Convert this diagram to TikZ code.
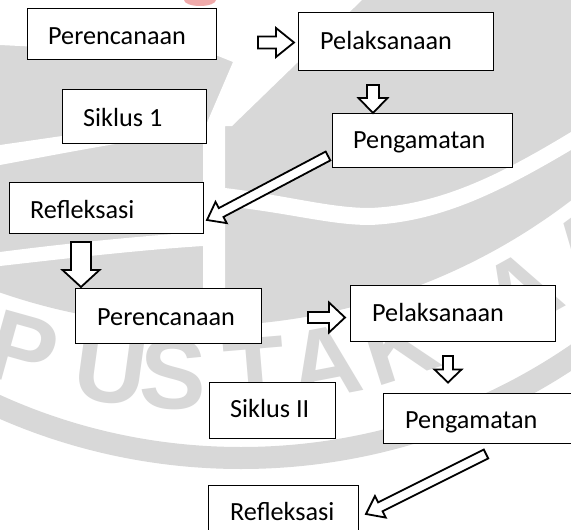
\documentclass[tikz,border=0pt]{standalone}
\usepackage{fontspec}
\setmainfont{Carlito}
\newfontfamily\wmfont{Liberation Sans}
\usetikzlibrary{calc}
\definecolor{wm}{RGB}{216,216,216}
\definecolor{wmred}{RGB}{240,170,170}
\newcommand{\blockarrow}[5]{%
  \coordinate (bah) at ($(#2)!#5pt!(#1)$);
  \draw[blockarr] ($(#1)!#3pt!90:(#2)$) -- ($(bah)!#3pt!90:(#2)$) -- ($(bah)!#4pt!90:(#2)$) -- (#2)
     -- ($(bah)!#4pt!-90:(#2)$) -- ($(bah)!#3pt!-90:(#2)$) -- ($(#1)!#3pt!-90:(#2)$) -- cycle;}
\begin{document}
\begin{tikzpicture}[x=1pt,y=-1pt,
  box/.style={draw=black, line width=1.4pt, fill=white, inner sep=0pt, anchor=north west},
  lbl/.style={anchor=base west, inner sep=0pt, font=\fontsize{26.2}{30}\selectfont},
  blockarr/.style={draw=black, fill=white, line width=1.8pt, line join=miter},
  wmletter/.style={text=wm, inner sep=0pt, font=\wmfont\bfseries\fontsize{100}{100}\selectfont}]
\useasboundingbox (0,0) rectangle (571,530);
\clip (0,0) rectangle (571,530);
\fill[white] (0,0) rectangle (571,530);
% watermark
\fill[wm] (200,-285) circle[radius=611];
\fill[white] (0,0) -- (362,0) -- (232,126) -- (225,126) -- (225,340) -- (203,340) -- (203,132)
  -- (233,62) -- (218,56) -- (0,45) -- cycle;
\fill[white] (0,145) .. controls (70,135) and (140,124) .. (203,118) -- (203,132)
  .. controls (140,138) and (70,152) .. (0,165) -- cycle;
\fill[white] (0,252) .. controls (70,243) and (140,236) .. (203,232) -- (203,246)
  .. controls (140,250) and (70,258) .. (0,266) -- cycle;
\fill[white] (225,188) .. controls (290,196) and (330,208) .. (370,208)
  .. controls (440,205) and (500,175) .. (571,132) -- (571,150)
  .. controls (500,192) and (440,222) .. (370,225)
  .. controls (330,225) and (290,213) .. (225,206) -- cycle;
\fill[wm, even odd rule] (241,-135) circle[radius=604] (241,-135) circle[radius=582];
\foreach \l/\a [count=\i] in {P/-15.6,U/-7.8,S/-2.3,T/4.8,A/10.9,K/17.6,A/29,A/36.4}
  \node[wmletter, rotate=\a] (wm\i) at ({200+660*sin(\a)},{-285+660*cos(\a)}) {\l};
\fill[wmred] (200,0) ellipse[x radius=16, y radius=6];
% boxes
\node[box, minimum width=189pt, minimum height=51pt] (p1) at (27,8) {};
\node[box, minimum width=195pt, minimum height=58pt] (l1) at (298,12) {};
\node[box, minimum width=180pt, minimum height=54pt] (g1) at (332,113) {};
\node[box, minimum width=144pt, minimum height=54pt] (s1) at (62,89) {};
\node[box, minimum width=194pt, minimum height=51pt] (r1) at (9,182) {};
\node[box, minimum width=186pt, minimum height=55pt] (p2) at (75,288) {};
\node[box, minimum width=205pt, minimum height=56pt] (l2) at (350,285) {};
\node[box, minimum width=126pt, minimum height=56pt] (s2) at (209,382) {};
\node[box, minimum width=189pt, minimum height=50pt] (g2) at (383,393) {};
\node[box, minimum width=150pt, minimum height=55pt] (r2) at (208,485) {};
% labels
\node[lbl] (p1t) at (48,45) {Perencanaan};
\node[lbl] (l1t) at (320,49) {Pelaksanaan};
\node[lbl] (g1t) at (353,148) {Pengamatan};
\node[lbl] (s1t) at (83,126) {Siklus 1};
\node[lbl] (r1t) at (30,218) {Refleksasi};
\node[lbl] (p2t) at (97,325) {Perencanaan};
\node[lbl] (l2t) at (372,321) {Pelaksanaan};
\node[lbl] (s2t) at (230,417) {Siklus II};
\node[lbl] (g2t) at (405,428) {Pengamatan};
\node[lbl] (r2t) at (230,520) {Refleksasi};
% arrow ends
\coordinate (a1s) at (258,42.5);  \coordinate (a1e) at (294,42.5);
\coordinate (a2s) at (373,85);    \coordinate (a2e) at (373,113);
\coordinate (a3s) at (328,156);   \coordinate (a3e) at (207,220);
\coordinate (a4s) at (81,242);    \coordinate (a4e) at (81,287);
\coordinate (a5s) at (308,317.5); \coordinate (a5e) at (345,317.5);
\coordinate (a6s) at (448,356);   \coordinate (a6e) at (448,382.5);
\coordinate (a7s) at (486,454);   \coordinate (a7e) at (366,514);
\blockarrow{a1s}{a1e}{6}{14.5}{18}
\blockarrow{a2s}{a2e}{6}{14.5}{15}
\blockarrow{a3s}{a3e}{5}{12}{16}
\blockarrow{a4s}{a4e}{10}{18.5}{17}
\blockarrow{a5s}{a5e}{5.5}{15}{16}
\blockarrow{a6s}{a6e}{5}{13.5}{13}
\blockarrow{a7s}{a7e}{5}{12}{16}
\end{tikzpicture}
\end{document}
